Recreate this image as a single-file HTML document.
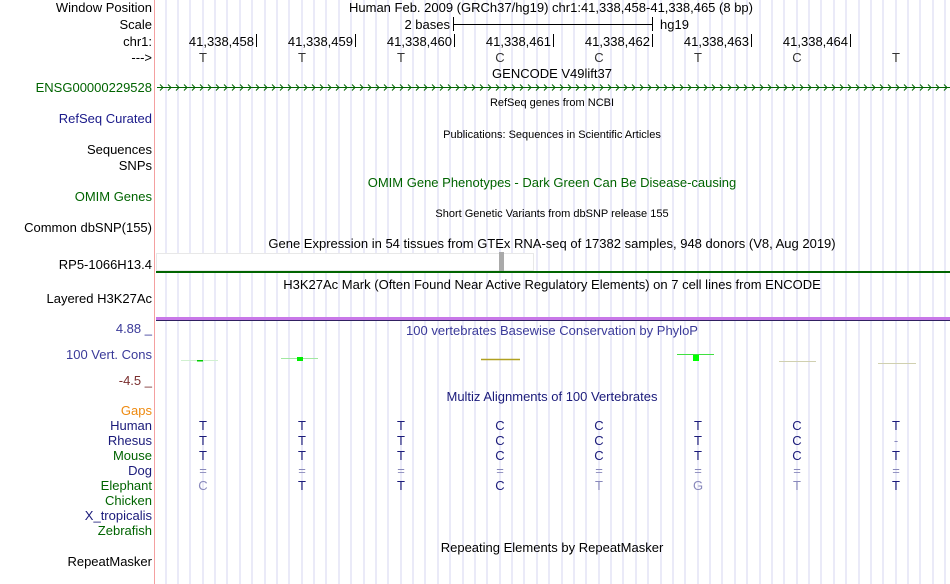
<!DOCTYPE html>
<html><head><meta charset="utf-8"><style>
html,body{margin:0;padding:0;background:#fff;}
svg{display:block;font-family:"Liberation Sans",sans-serif;}
</style></head><body>
<svg width="950" height="584" viewBox="0 0 950 584" xmlns="http://www.w3.org/2000/svg">
<rect width="950" height="584" fill="#fff"/>
<g stroke="#d6d6f2" stroke-width="1" id="grid">
<line x1="166" y1="0" x2="166" y2="584"/><line x1="178" y1="0" x2="178" y2="584"/><line x1="190" y1="0" x2="190" y2="584"/><line x1="203" y1="0" x2="203" y2="584"/>
<line x1="215" y1="0" x2="215" y2="584"/><line x1="227" y1="0" x2="227" y2="584"/><line x1="240" y1="0" x2="240" y2="584"/><line x1="252" y1="0" x2="252" y2="584"/>
<line x1="265" y1="0" x2="265" y2="584"/><line x1="277" y1="0" x2="277" y2="584"/><line x1="289" y1="0" x2="289" y2="584"/><line x1="302" y1="0" x2="302" y2="584"/>
<line x1="314" y1="0" x2="314" y2="584"/><line x1="326" y1="0" x2="326" y2="584"/><line x1="339" y1="0" x2="339" y2="584"/><line x1="351" y1="0" x2="351" y2="584"/>
<line x1="364" y1="0" x2="364" y2="584"/><line x1="376" y1="0" x2="376" y2="584"/><line x1="388" y1="0" x2="388" y2="584"/><line x1="401" y1="0" x2="401" y2="584"/>
<line x1="413" y1="0" x2="413" y2="584"/><line x1="425" y1="0" x2="425" y2="584"/><line x1="438" y1="0" x2="438" y2="584"/><line x1="450" y1="0" x2="450" y2="584"/>
<line x1="463" y1="0" x2="463" y2="584"/><line x1="475" y1="0" x2="475" y2="584"/><line x1="487" y1="0" x2="487" y2="584"/><line x1="500" y1="0" x2="500" y2="584"/>
<line x1="512" y1="0" x2="512" y2="584"/><line x1="524" y1="0" x2="524" y2="584"/><line x1="537" y1="0" x2="537" y2="584"/><line x1="549" y1="0" x2="549" y2="584"/>
<line x1="562" y1="0" x2="562" y2="584"/><line x1="574" y1="0" x2="574" y2="584"/><line x1="586" y1="0" x2="586" y2="584"/><line x1="599" y1="0" x2="599" y2="584"/>
<line x1="611" y1="0" x2="611" y2="584"/><line x1="623" y1="0" x2="623" y2="584"/><line x1="636" y1="0" x2="636" y2="584"/><line x1="648" y1="0" x2="648" y2="584"/>
<line x1="661" y1="0" x2="661" y2="584"/><line x1="673" y1="0" x2="673" y2="584"/><line x1="685" y1="0" x2="685" y2="584"/><line x1="698" y1="0" x2="698" y2="584"/>
<line x1="710" y1="0" x2="710" y2="584"/><line x1="722" y1="0" x2="722" y2="584"/><line x1="735" y1="0" x2="735" y2="584"/><line x1="747" y1="0" x2="747" y2="584"/>
<line x1="760" y1="0" x2="760" y2="584"/><line x1="772" y1="0" x2="772" y2="584"/><line x1="784" y1="0" x2="784" y2="584"/><line x1="797" y1="0" x2="797" y2="584"/>
<line x1="809" y1="0" x2="809" y2="584"/><line x1="821" y1="0" x2="821" y2="584"/><line x1="834" y1="0" x2="834" y2="584"/><line x1="846" y1="0" x2="846" y2="584"/>
<line x1="859" y1="0" x2="859" y2="584"/><line x1="871" y1="0" x2="871" y2="584"/><line x1="883" y1="0" x2="883" y2="584"/><line x1="896" y1="0" x2="896" y2="584"/>
<line x1="908" y1="0" x2="908" y2="584"/><line x1="920" y1="0" x2="920" y2="584"/><line x1="933" y1="0" x2="933" y2="584"/><line x1="945" y1="0" x2="945" y2="584"/>
</g>
<rect x="0" y="0" width="154" height="584" fill="#fff"/>
<line x1="154.5" y1="0" x2="154.5" y2="584" stroke="#f4a0a0" stroke-width="1"/>
<g font-size="13" fill="#000" text-anchor="end">
<text x="152" y="12">Window Position</text>
<text x="152" y="29">Scale</text>
<text x="152" y="46">chr1:</text>
<text x="152" y="62">---&gt;</text>
<text x="152" y="92" fill="#006400">ENSG00000229528</text>
<text x="152" y="123" fill="#1a1a8a">RefSeq Curated</text>
<text x="152" y="154">Sequences</text>
<text x="152" y="170">SNPs</text>
<text x="152" y="201" fill="#006400">OMIM Genes</text>
<text x="152" y="232">Common dbSNP(155)</text>
<text x="152" y="269">RP5-1066H13.4</text>
<text x="152" y="303">Layered H3K27Ac</text>
<text x="152" y="333" fill="#3a3a99">4.88 _</text>
<text x="152" y="359" fill="#3a3a99">100 Vert. Cons</text>
<text x="152" y="385" fill="#7a2e2e">-4.5 _</text>
<text x="152" y="415" fill="#ee8a10">Gaps</text>
<text x="152" y="430" fill="#1a1a7a">Human</text>
<text x="152" y="445" fill="#1a1a7a">Rhesus</text>
<text x="152" y="460" fill="#006400">Mouse</text>
<text x="152" y="475" fill="#1a1a7a">Dog</text>
<text x="152" y="490" fill="#006400">Elephant</text>
<text x="152" y="505" fill="#006400">Chicken</text>
<text x="152" y="520" fill="#1a1a7a">X_tropicalis</text>
<text x="152" y="535" fill="#006400">Zebrafish</text>
<text x="152" y="566">RepeatMasker</text>
</g>
<g font-size="13" fill="#000">
<text x="349" y="12">Human Feb. 2009 (GRCh37/hg19)   chr1:41,338,458-41,338,465 (8 bp)</text>
<text x="450" y="29" text-anchor="end">2 bases</text>
<text x="660" y="29">hg19</text>
</g>
<g stroke="#000" stroke-width="1">
<line x1="453.5" y1="24.5" x2="652.5" y2="24.5"/>
<line x1="453.5" y1="17" x2="453.5" y2="31"/>
<line x1="652.5" y1="17" x2="652.5" y2="31"/>
<line x1="256.5" y1="34" x2="256.5" y2="47"/>
<line x1="355.5" y1="34" x2="355.5" y2="47"/>
<line x1="454.5" y1="34" x2="454.5" y2="47"/>
<line x1="553.5" y1="34" x2="553.5" y2="47"/>
<line x1="652.5" y1="34" x2="652.5" y2="47"/>
<line x1="751.5" y1="34" x2="751.5" y2="47"/>
<line x1="850.5" y1="34" x2="850.5" y2="47"/>
</g>
<g font-size="13" fill="#000" text-anchor="end">
<text x="254" y="46">41,338,458</text><text x="353" y="46">41,338,459</text><text x="452" y="46">41,338,460</text>
<text x="551" y="46">41,338,461</text><text x="650" y="46">41,338,462</text><text x="749" y="46">41,338,463</text>
<text x="848" y="46">41,338,464</text>
</g>
<g font-size="13" fill="#333" text-anchor="middle">
<text x="203" y="62">T</text><text x="302" y="62">T</text><text x="401" y="62">T</text><text x="500" y="62">C</text>
<text x="599" y="62">C</text><text x="698" y="62">T</text><text x="797" y="62">C</text><text x="896" y="62">T</text>
</g>
<g font-size="13" fill="#000" text-anchor="middle">
<text x="552" y="78">GENCODE V49lift37</text>
<text x="552" y="106" font-size="11">RefSeq genes from NCBI</text>
<text x="552" y="138" font-size="11">Publications: Sequences in Scientific Articles</text>
<text x="552" y="187" fill="#006400">OMIM Gene Phenotypes - Dark Green Can Be Disease-causing</text>
<text x="552" y="217" font-size="11">Short Genetic Variants from dbSNP release 155</text>
<text x="552" y="248">Gene Expression in 54 tissues from GTEx RNA-seq of 17382 samples, 948 donors (V8, Aug 2019)</text>
<text x="552" y="289">H3K27Ac Mark (Often Found Near Active Regulatory Elements) on 7 cell lines from ENCODE</text>
<text x="552" y="335" fill="#3a3a99">100 vertebrates Basewise Conservation by PhyloP</text>
<text x="552" y="401" fill="#1a1a7a">Multiz Alignments of 100 Vertebrates</text>
<text x="552" y="552">Repeating Elements by RepeatMasker</text>
</g>
<line x1="157" y1="87.5" x2="950" y2="87.5" stroke="#006400" stroke-width="1"/>
<g stroke="#006400" stroke-width="1" fill="none" id="arr"></g>
<path stroke="#006400" fill="none" stroke-width="1" d="M160 84.5l3 3l-3 3M168 84.5l3 3l-3 3M176 84.5l3 3l-3 3M184 84.5l3 3l-3 3M192 84.5l3 3l-3 3M200 84.5l3 3l-3 3M208 84.5l3 3l-3 3M216 84.5l3 3l-3 3M224 84.5l3 3l-3 3M232 84.5l3 3l-3 3M240 84.5l3 3l-3 3M248 84.5l3 3l-3 3M256 84.5l3 3l-3 3M264 84.5l3 3l-3 3M272 84.5l3 3l-3 3M280 84.5l3 3l-3 3M288 84.5l3 3l-3 3M296 84.5l3 3l-3 3M304 84.5l3 3l-3 3M312 84.5l3 3l-3 3M320 84.5l3 3l-3 3M328 84.5l3 3l-3 3M336 84.5l3 3l-3 3M344 84.5l3 3l-3 3M352 84.5l3 3l-3 3M360 84.5l3 3l-3 3M368 84.5l3 3l-3 3M376 84.5l3 3l-3 3M384 84.5l3 3l-3 3M392 84.5l3 3l-3 3M400 84.5l3 3l-3 3M408 84.5l3 3l-3 3M416 84.5l3 3l-3 3M424 84.5l3 3l-3 3M432 84.5l3 3l-3 3M440 84.5l3 3l-3 3M448 84.5l3 3l-3 3M456 84.5l3 3l-3 3M464 84.5l3 3l-3 3M472 84.5l3 3l-3 3M480 84.5l3 3l-3 3M488 84.5l3 3l-3 3M496 84.5l3 3l-3 3M504 84.5l3 3l-3 3M512 84.5l3 3l-3 3M520 84.5l3 3l-3 3M528 84.5l3 3l-3 3M536 84.5l3 3l-3 3M544 84.5l3 3l-3 3M552 84.5l3 3l-3 3M560 84.5l3 3l-3 3M568 84.5l3 3l-3 3M576 84.5l3 3l-3 3M584 84.5l3 3l-3 3M592 84.5l3 3l-3 3M600 84.5l3 3l-3 3M608 84.5l3 3l-3 3M616 84.5l3 3l-3 3M624 84.5l3 3l-3 3M632 84.5l3 3l-3 3M640 84.5l3 3l-3 3M648 84.5l3 3l-3 3M656 84.5l3 3l-3 3M664 84.5l3 3l-3 3M672 84.5l3 3l-3 3M680 84.5l3 3l-3 3M688 84.5l3 3l-3 3M696 84.5l3 3l-3 3M704 84.5l3 3l-3 3M712 84.5l3 3l-3 3M720 84.5l3 3l-3 3M728 84.5l3 3l-3 3M736 84.5l3 3l-3 3M744 84.5l3 3l-3 3M752 84.5l3 3l-3 3M760 84.5l3 3l-3 3M768 84.5l3 3l-3 3M776 84.5l3 3l-3 3M784 84.5l3 3l-3 3M792 84.5l3 3l-3 3M800 84.5l3 3l-3 3M808 84.5l3 3l-3 3M816 84.5l3 3l-3 3M824 84.5l3 3l-3 3M832 84.5l3 3l-3 3M840 84.5l3 3l-3 3M848 84.5l3 3l-3 3M856 84.5l3 3l-3 3M864 84.5l3 3l-3 3M872 84.5l3 3l-3 3M880 84.5l3 3l-3 3M888 84.5l3 3l-3 3M896 84.5l3 3l-3 3M904 84.5l3 3l-3 3M912 84.5l3 3l-3 3M920 84.5l3 3l-3 3M928 84.5l3 3l-3 3M936 84.5l3 3l-3 3M944 84.5l3 3l-3 3"/>
<rect x="156.5" y="253.5" width="377" height="17" fill="#fff" stroke="#e8e8e8"/>
<rect x="499" y="252" width="5" height="19" fill="#aaa"/>
<rect x="156" y="271" width="794" height="2" fill="#006400"/>
<rect x="156" y="317" width="794" height="3" fill="#c878e8"/>
<rect x="156" y="320" width="794" height="1" fill="#302060"/>
<g>
<line x1="181" y1="360.5" x2="218" y2="360.5" stroke="#d0f0d0"/><rect x="197" y="360" width="6" height="1.5" fill="#0c0"/>
<line x1="281" y1="358.5" x2="318" y2="358.5" stroke="#a0e8a0"/><rect x="297" y="357" width="6" height="4" fill="#0e0"/>
<line x1="481" y1="359.5" x2="520" y2="359.5" stroke="#b0a020" stroke-width="1.5"/>
<line x1="677" y1="354.5" x2="714" y2="354.5" stroke="#40e040"/><rect x="693" y="355" width="6" height="6" fill="#0f0"/>
<line x1="779" y1="361.5" x2="816" y2="361.5" stroke="#d0d0b0"/>
<line x1="878" y1="363.5" x2="916" y2="363.5" stroke="#d0d0b0"/>
</g>
<g font-size="13" text-anchor="middle" fill="#1a1a7a">
<text x="203" y="430">T</text><text x="302" y="430">T</text><text x="401" y="430">T</text><text x="500" y="430">C</text><text x="599" y="430">C</text><text x="698" y="430">T</text><text x="797" y="430">C</text><text x="896" y="430">T</text>
<text x="203" y="445">T</text><text x="302" y="445">T</text><text x="401" y="445">T</text><text x="500" y="445">C</text><text x="599" y="445">C</text><text x="698" y="445">T</text><text x="797" y="445">C</text><text x="896" y="445" fill="#8888bb">-</text>
<text x="203" y="460">T</text><text x="302" y="460">T</text><text x="401" y="460">T</text><text x="500" y="460">C</text><text x="599" y="460">C</text><text x="698" y="460">T</text><text x="797" y="460">C</text><text x="896" y="460">T</text>
<g fill="#8888bb"><text x="203" y="475">=</text><text x="302" y="475">=</text><text x="401" y="475">=</text><text x="500" y="475">=</text><text x="599" y="475">=</text><text x="698" y="475">=</text><text x="797" y="475">=</text><text x="896" y="475">=</text></g>
<text x="203" y="490" fill="#8888bb">C</text><text x="302" y="490">T</text><text x="401" y="490">T</text><text x="500" y="490">C</text><text x="599" y="490" fill="#8888bb">T</text><text x="698" y="490" fill="#8888bb">G</text><text x="797" y="490" fill="#8888bb">T</text><text x="896" y="490">T</text>
</g>
</svg>
</body></html>
